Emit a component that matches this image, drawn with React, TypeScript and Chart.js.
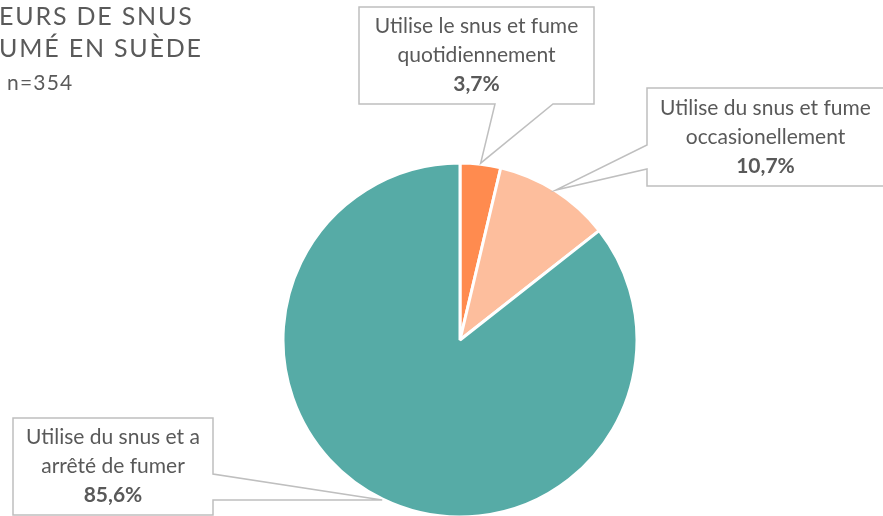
import React, { useEffect, useRef } from "react";
import { Chart, registerables } from "chart.js";

Chart.register(...registerables);

const categories = [
  "Utilise le snus et fume quotidiennement",
  "Utilise du snus et fume occasionellement",
  "Utilise du snus et a arrêté de fumer",
];
const labelLines = [
  ["Utilise le snus et fume", "quotidiennement"],
  ["Utilise du snus et fume", "occasionellement"],
  ["Utilise du snus et a", "arrêté de fumer"],
];
const values = [3.7, 10.7, 85.6];
const valueLabels = ["3,7%", "10,7%", "85,6%"];
const colors = ["#FF8B4F", "#FDBE9D", "#56ABA6"];
const titleLines = ["EURS DE SNUS", "UMÉ EN SUÈDE"];
const subtitle = "n=354";

// callout box layout: box rect + wedge base points
const callouts = [
  { x: 359, y: 7, w: 235, h: 97, side: "bottom", b1: 495, b2: 553 },
  { x: 647, y: 88, w: 240, h: 98, side: "left", b1: 145, b2: 169 },
  { x: 13, y: 418, w: 200, h: 97, side: "right", b1: 474, b2: 500 },
];

const FONT = "Lato, 'Open Sans', sans-serif";

const calloutPlugin = {
  id: "callouts",
  afterDraw(chart: any) {
    const ctx = chart.ctx;
    const meta = chart.getDatasetMeta(0);
    ctx.save();
    // title
    ctx.fillStyle = "#5A5A5A";
    ctx.textAlign = "left";
    ctx.textBaseline = "alphabetic";
    ctx.font = `400 25px ${FONT}`;
    (ctx as any).letterSpacing = "1.8px";
    ctx.fillText(titleLines[0], -1, 25);
    ctx.fillText(titleLines[1], -1, 57);
    ctx.font = `400 21px ${FONT}`;
    (ctx as any).letterSpacing = "1.2px";
    ctx.fillText(subtitle, 7, 90);
    (ctx as any).letterSpacing = "0px";

    meta.data.forEach((arc: any, i: number) => {
      const c = callouts[i];
      const p = arc.getProps(["x", "y", "startAngle", "endAngle", "outerRadius"], true);
      const mid = (p.startAngle + p.endAngle) / 2;
      const r = p.outerRadius + 1;
      const tx = p.x + Math.cos(mid) * r;
      const ty = p.y + Math.sin(mid) * r;
      const L = c.x, T = c.y, R = c.x + c.w, B = c.y + c.h;
      ctx.beginPath();
      ctx.moveTo(L, T);
      ctx.lineTo(R, T);
      if (c.side === "right") {
        ctx.lineTo(R, c.b1);
        ctx.lineTo(tx, ty);
        ctx.lineTo(R, c.b2);
      }
      ctx.lineTo(R, B);
      if (c.side === "bottom") {
        ctx.lineTo(c.b2, B);
        ctx.lineTo(tx, ty);
        ctx.lineTo(c.b1, B);
      }
      ctx.lineTo(L, B);
      if (c.side === "left") {
        ctx.lineTo(L, c.b2);
        ctx.lineTo(tx, ty);
        ctx.lineTo(L, c.b1);
      }
      ctx.closePath();
      ctx.fillStyle = "#ffffff";
      ctx.fill();
      ctx.strokeStyle = "#BFBFBF";
      ctx.lineWidth = 1.5;
      ctx.stroke();

      const cx = i === 1 ? 765.5 : c.x + c.w / 2;
      const cy = c.y + c.h / 2;
      ctx.fillStyle = "#595959";
      ctx.textAlign = "center";
      ctx.textBaseline = "middle";
      ctx.font = `400 21px ${FONT}`;
      ctx.fillText(labelLines[i][0], cx, cy - 29);
      ctx.fillText(labelLines[i][1], cx, cy);
      ctx.font = `700 21px ${FONT}`;
      ctx.fillText(valueLabels[i], cx, cy + 29);
    });
    ctx.restore();
  },
};

export default function App() {
  const ref = useRef<HTMLCanvasElement | null>(null);
  useEffect(() => {
    if (!ref.current) return;
    const chart = new Chart(ref.current, {
      type: "pie",
      data: {
        labels: categories,
        datasets: [
          {
            data: values,
            backgroundColor: colors,
            borderColor: "#ffffff",
            borderWidth: 3,
            radius: 177,
          },
        ],
      },
      options: {
        animation: false,
        responsive: false,
        layout: { padding: { left: 37, right: 0, top: 164, bottom: 0 } },
        plugins: {
          legend: { display: false },
          tooltip: { enabled: false },
          title: { display: false },
        },
      },
      plugins: [calloutPlugin],
    });
    return () => chart.destroy();
  }, []);
  return (
    <div style={{ position: "absolute", left: 0, top: 0, width: 883, height: 516, background: "#fff" }}>
      <canvas ref={ref} width={883} height={516} style={{ display: "block" }} />
    </div>
  );
}
